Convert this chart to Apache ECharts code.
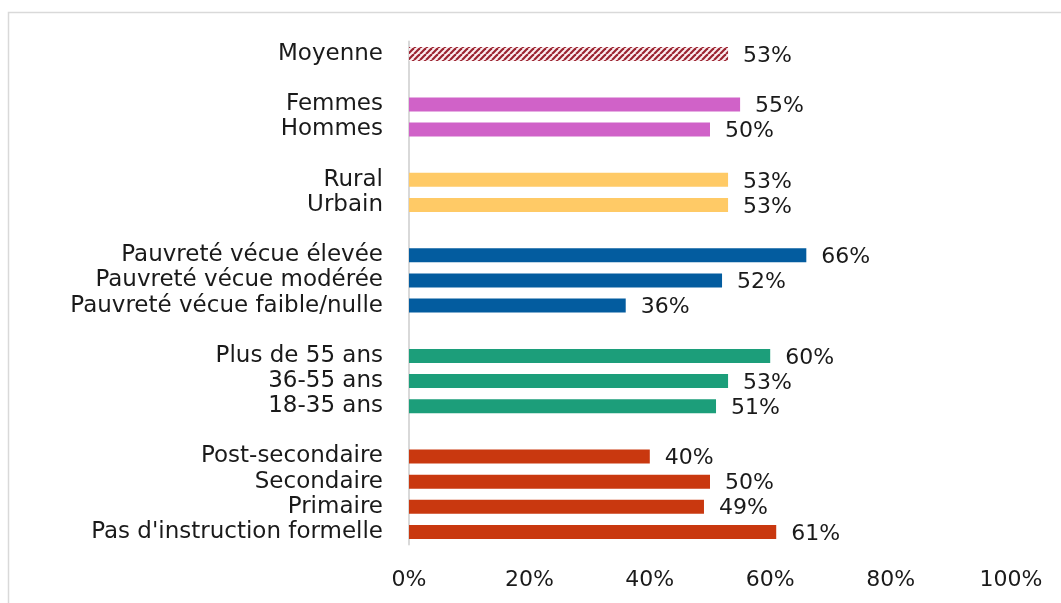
<!DOCTYPE html>
<html>
<head>
<meta charset="utf-8">
<script src="https://cdn.jsdelivr.net/npm/echarts@6/dist/echarts.min.js"></script>
<style>
  html, body { margin: 0; padding: 0; background: #fff; }
  #chart { width: 1061px; height: 603px; }
</style>
</head>
<body>
<div id="chart"></div>
<script>
// categories top to bottom, blank strings are the gaps between groups
const categories = [
  'Moyenne', ' ',
  'Femmes', 'Hommes', '  ',
  'Rural', 'Urbain', '   ',
  'Pauvreté vécue élevée', 'Pauvreté vécue modérée', 'Pauvreté vécue faible/nulle', '    ',
  'Plus de 55 ans', '36-55 ans', '18-35 ans', '     ',
  'Post-secondaire', 'Secondaire', 'Primaire', "Pas d'instruction formelle"
];
const values = [
  53, null,
  55, 50, null,
  53, 53, null,
  66, 52, 36, null,
  60, 53, 51, null,
  40, 50, 49, 61
];
// group of each row -> colour
const groups = [
  'moy', null,
  'sexe', 'sexe', null,
  'milieu', 'milieu', null,
  'pauv', 'pauv', 'pauv', null,
  'age', 'age', 'age', null,
  'educ', 'educ', 'educ', 'educ'
];
const xTicks = [0, 20, 40, 60, 80, 100];

// hatched fill for the average bar
function hatch() {
  let c = document.createElement('canvas');
  c.width = 6; c.height = 6;
  let ctx = c.getContext('2d');
  ctx.fillStyle = '#fbeef0';
  ctx.fillRect(0, 0, 6, 6);
  ctx.strokeStyle = '#9b2431';
  ctx.lineWidth = 2.2;
  for (let k = -6; k <= 6; k += 6) {
    ctx.beginPath();
    ctx.moveTo(k, 6);
    ctx.lineTo(k + 6, 0);
    ctx.stroke();
  }
  return { image: c, repeat: 'repeat' };
}

const colors = {
  moy: hatch(),
  sexe: '#d062c8',
  milieu: '#ffca66',
  pauv: '#035c9f',
  age: '#1c9e7a',
  educ: '#c9380f'
};

const FONT = 'DejaVu Sans';
const INK = '#1a1a1a';

let chart = echarts.init(document.getElementById('chart'));
chart.setOption({
  animation: false,
  textStyle: { fontFamily: FONT },
  graphic: [{
    type: 'rect',
    shape: { x: 8.5, y: 12.5, width: 1100, height: 700 },
    style: { fill: 'none', stroke: '#d9d9d9', lineWidth: 1.5 },
    silent: true
  }],
  grid: { left: 409, right: 50, top: 41.5, bottom: 58.5, containLabel: false },
  xAxis: {
    type: 'value',
    min: 0, max: 100, interval: 20,
    splitLine: { show: false },
    axisLine: { show: false },
    axisTick: { show: false },
    axisLabel: {
      margin: 25,
      color: INK,
      fontSize: 22,
      fontFamily: FONT,
      formatter: v => xTicks.includes(v) ? v + '%' : ''
    }
  },
  yAxis: {
    type: 'category',
    inverse: true,
    data: categories,
    axisLine: { show: true, lineStyle: { color: '#d9d9d9', width: 2 } },
    axisTick: { show: false },
    axisLabel: { interval: 0, margin: 26, padding: [4, 0, 0, 0], color: INK, fontSize: 23, fontFamily: FONT }
  },
  series: [{
    type: 'bar',
    barWidth: 14,
    data: values.map((v, i) => ({
      value: v,
      itemStyle: { color: groups[i] ? colors[groups[i]] : '#fff' }
    })),
    label: {
      show: true,
      position: 'right',
      distance: 15,
      offset: [0, 2],
      color: INK,
      fontSize: 22,
      fontFamily: FONT,
      formatter: p => p.value == null ? '' : p.value + '%'
    }
  }]
});
</script>
</body>
</html>
